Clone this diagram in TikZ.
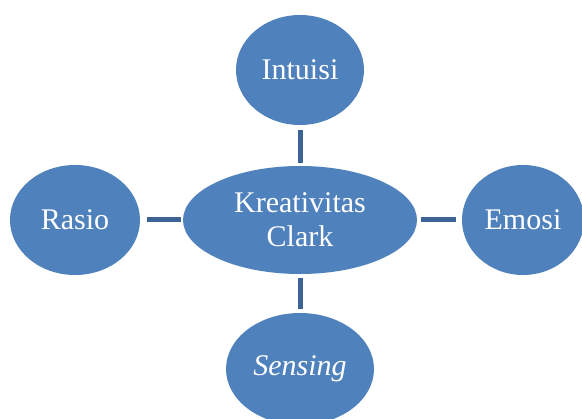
\documentclass[tikz,border=0pt]{standalone}
\usepackage{fontspec}
\setmainfont{Liberation Serif}
\usetikzlibrary{shapes.geometric}
\definecolor{ellfill}{HTML}{4F81BD}
\definecolor{linkcol}{HTML}{3B6396}
\tikzset{
  bubble/.style={ellipse, fill=ellfill, draw=none, inner sep=0pt, text=white,
    font=\fontsize{30}{34}\selectfont, align=center},
  link/.style={draw=linkcol, line width=5pt}
}
\begin{document}
\begin{tikzpicture}[x=1pt, y=-1pt]
\useasboundingbox (0,0) rectangle (582,419);
\node[bubble, minimum width=128pt, minimum height=110pt] (intu) at (300,70) {Intuisi};
\node[bubble, minimum width=234pt, minimum height=108pt] (krea) at (300,220) {Kreativitas\\Clark};
\node[bubble, minimum width=130pt, minimum height=110pt] (rasio) at (75,220) {Rasio};
\node[bubble, minimum width=122pt, minimum height=110pt] (emosi) at (523,220) {Emosi};
\node[bubble, minimum width=148pt, minimum height=112pt] (sens) at (300,369) {\textit{Sensing}};
\path (intu.south) ++(0,5) coordinate (a1);
\path (krea.north) ++(0,-3) coordinate (a2);
\draw[link] (a1) -- (a2);
\path (krea.south) ++(0,4) coordinate (b1);
\path (sens.north) ++(0,-4) coordinate (b2);
\draw[link] (b1) -- (b2);
\path (rasio.east) ++(7,0) coordinate (c1);
\path (krea.west) ++(-2,0) coordinate (c2);
\draw[link] (c1) -- (c2);
\path (krea.east) ++(4,0) coordinate (d1);
\path (emosi.west) ++(-6,0) coordinate (d2);
\draw[link] (d1) -- (d2);
\end{tikzpicture}
\end{document}
